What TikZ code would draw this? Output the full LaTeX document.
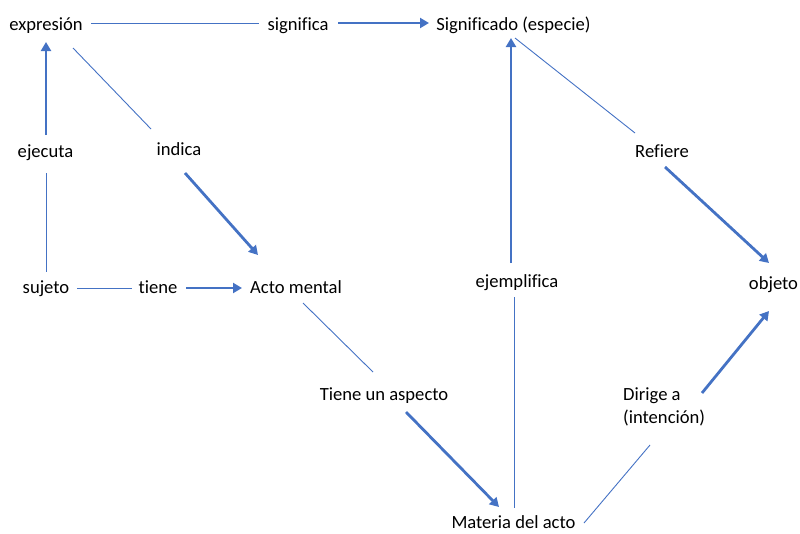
\documentclass[tikz,border=0pt]{standalone}
\usepackage{fontspec}
\setmainfont{Carlito}[Ligatures=NoCommon]
\usetikzlibrary{arrows.meta}
\definecolor{linkblue}{HTML}{4472C4}
\begin{document}
\begin{tikzpicture}[x=1pt,y=-1pt,
  lbl/.style={anchor=base,inner sep=0pt,font=\fontsize{18.6}{22.7}\selectfont},
  thinlink/.style={draw=linkblue,line width=0.9pt},
  thicklink/.style={draw=linkblue,line width=2.8pt,
    -{Triangle[length=9pt,width=10pt]}},
]
\useasboundingbox (0,0) rectangle (800,533);

% concepts
\node[lbl] (expresion)   at (46,30)    {expresión};
\node[lbl] (significa)   at (298,30)   {significa};
\node[lbl] (significado) at (513.5,30) {Significado (especie)};
\node[lbl] (ejecuta)     at (45.5,157) {ejecuta};
\node[lbl] (indica)      at (179,155)  {indica};
\node[lbl] (refiere)     at (662,157)  {Refiere};
\node[lbl] (sujeto)      at (46,293)   {sujeto};
\node[lbl] (tiene)       at (158,293)  {tiene};
\node[lbl] (acto)        at (296,293)  {Acto mental};
\node[lbl] (ejemplifica) at (517,287)  {ejemplifica};
\node[lbl] (objeto)      at (773.5,289) {objeto};
\node[lbl] (aspecto)     at (384,400)  {Tiene un aspecto};
% two-line label: its base is the baseline of the second line
\node[lbl,anchor=base west,align=left] (dirige) at (623,423) {Dirige a\\(intención)};
\node[lbl] (materia)     at (513.5,528) {Materia del acto};

% plain links
\draw[thinlink] ([shift={(45,-7)}]expresion.base) -- ([shift={(-39,-7)}]significa.base);
\draw[thinlink] ([shift={(27,18)}]expresion.base) -- ([shift={(-28,-26)}]indica.base);
\draw[thinlink] ([shift={(0.5,16)}]ejecuta.base) -- ([shift={(0,-21)}]sujeto.base);
\draw[thinlink] ([shift={(31,-5)}]sujeto.base) -- ([shift={(-26,-5)}]tiene.base);
\draw[thinlink] ([shift={(7,10)}]acto.base) -- ([shift={(-11,-28)}]aspecto.base);
\draw[thinlink] ([shift={(1.5,8)}]significado.base) -- ([shift={(-27,-24)}]refiere.base);
\draw[thinlink] ([shift={(-3,10)}]ejemplifica.base) -- ([shift={(0.5,-20)}]materia.base);
\draw[thinlink] ([shift={(70.5,-5)}]materia.base) -- ([shift={(27,22)}]dirige.base west);

% directed links
\draw[thicklink] ([shift={(40,-7)}]significa.base) -- ([shift={(-84.5,-7)}]significado.base);
\draw[thicklink] ([shift={(0.5,-22)}]ejecuta.base) -- ([shift={(0,12)}]expresion.base);
\draw[thicklink] ([shift={(6,18)}]indica.base) -- ([shift={(-38,-38)}]acto.base);
\draw[thicklink] ([shift={(28,-5)}]tiene.base) -- ([shift={(-54,-5)}]acto.base);
\draw[thicklink] ([shift={(22,12)}]aspecto.base) -- ([shift={(-14.5,-21)}]materia.base);
\draw[thicklink] ([shift={(-6,-24)}]ejemplifica.base) -- ([shift={(-2.5,8)}]significado.base);
\draw[thicklink] ([shift={(3,10)}]refiere.base) -- ([shift={(-4.5,-26)}]objeto.base);
\draw[thicklink] ([shift={(79,-30)}]dirige.base west) -- ([shift={(-4.5,22)}]objeto.base);
\end{tikzpicture}
\end{document}
